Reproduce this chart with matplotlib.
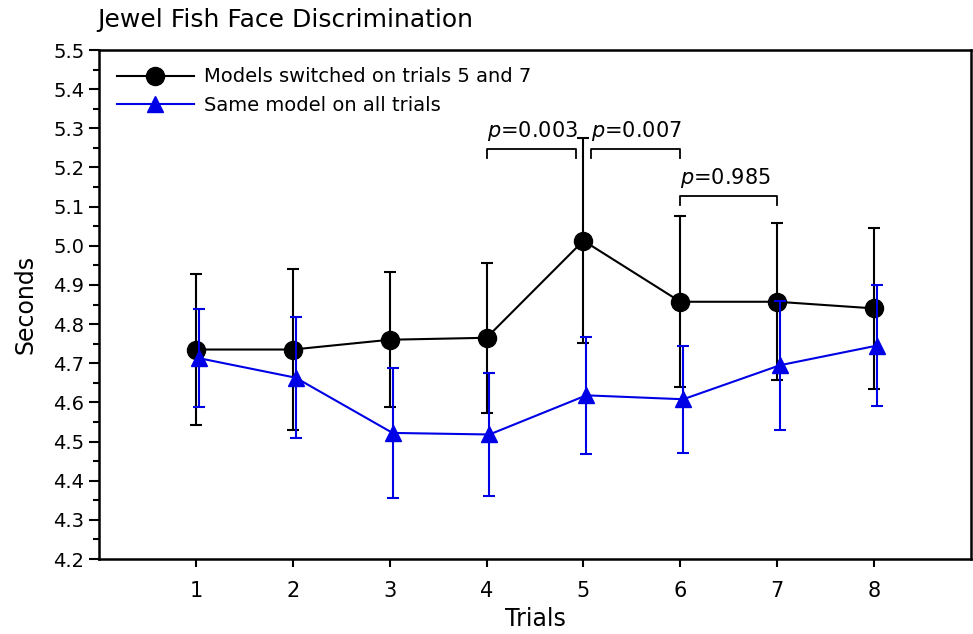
import matplotlib.pyplot as plt
from matplotlib.lines import Line2D
from matplotlib.ticker import MultipleLocator

# --- data ---
trials = [1, 2, 3, 4, 5, 6, 7, 8]

switched_mean = [4.735, 4.735, 4.760, 4.765, 5.013, 4.857, 4.857, 4.840]
switched_err = [0.192, 0.205, 0.172, 0.192, 0.262, 0.218, 0.200, 0.205]

same_mean = [4.713, 4.663, 4.522, 4.518, 4.618, 4.608, 4.695, 4.745]
same_err = [0.126, 0.155, 0.167, 0.157, 0.150, 0.136, 0.165, 0.155]

# brackets: (left trial, right trial, height, label)
brackets = [
    (4.0, 4.92, 5.248, "0.003"),
    (5.08, 6.0, 5.248, "0.007"),
    (6.0, 7.0, 5.128, "0.985"),
]

blue = "#0000e6"

fig = plt.figure(figsize=(9.73, 6.34), dpi=100)
ax = fig.add_axes([99 / 973, 1 - 559 / 634, 872 / 973, 509 / 634])

ax.errorbar(trials, switched_mean, yerr=switched_err, color="black", lw=1.5,
            marker="o", markersize=13, capsize=4, capthick=1.5, elinewidth=1.5,
            zorder=3)
ax.errorbar([t + 0.03 for t in trials], same_mean, yerr=same_err, color=blue,
            lw=1.5, marker="^", markersize=12, capsize=4, capthick=1.5,
            elinewidth=1.5, zorder=4)

# significance brackets
for x0, x1, h, txt in brackets:
    ax.plot([x0, x0, x1, x1], [h - 0.025, h, h, h - 0.025], color="black", lw=1.3)
    ax.text(x0, h + 0.015, r"$p$=" + txt, fontsize=15, ha="left", va="bottom")

ax.set_xlim(0, 9)
ax.set_ylim(4.2, 5.5)
ax.set_xticks(trials)
ax.yaxis.set_major_locator(MultipleLocator(0.1))
ax.yaxis.set_minor_locator(MultipleLocator(0.05))
ax.yaxis.set_major_formatter(plt.FormatStrFormatter("%.1f"))
ax.tick_params(axis="y", which="major", direction="out", length=7, width=1.5, labelsize=14)
ax.tick_params(axis="y", which="minor", direction="out", length=4, width=1.5)
ax.tick_params(axis="x", direction="out", length=6, width=1.5, labelsize=15, pad=10)

for s in ax.spines.values():
    s.set_linewidth(1.8)

ax.set_xlabel("Trials", fontsize=17, labelpad=4)
ax.set_ylabel("Seconds", fontsize=17, labelpad=11)
fig.text(97 / 973, 1 - 8 / 634, "Jewel Fish Face Discrimination", fontsize=18,
         ha="left", va="top")

handles = [
    Line2D([], [], color="black", lw=1.5, marker="o", markersize=13),
    Line2D([], [], color=blue, lw=1.5, marker="^", markersize=12),
]
labels = ["Models switched on trials 5 and 7", "Same model on all trials"]
ax.legend(handles, labels, loc="upper left", frameon=False, fontsize=14,
          handlelength=4.0, borderaxespad=0.5, labelspacing=0.5,
          handletextpad=0.5, borderpad=0.4)

fig.savefig("out.png", dpi=100)
